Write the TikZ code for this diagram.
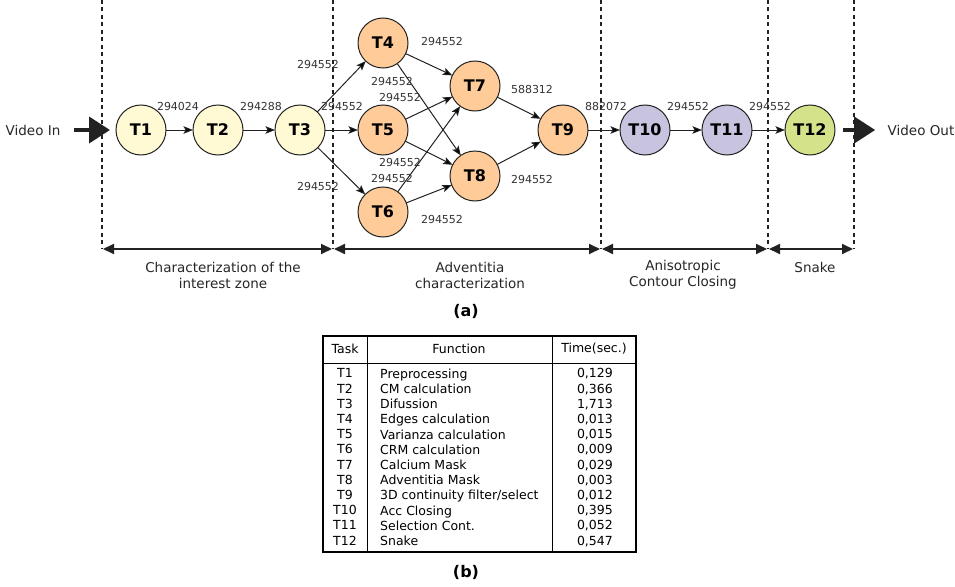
\documentclass[tikz,border=0pt]{standalone}
\usepackage{fontspec}
\setmainfont{DejaVu Sans}
\usetikzlibrary{positioning,arrows.meta}

\definecolor{prepfill}{HTML}{FFFAD4}
\definecolor{advfill}{HTML}{FFCC99}
\definecolor{acfill}{HTML}{C8C4E0}
\definecolor{snakefill}{HTML}{D4E38A}
\definecolor{inkgray}{HTML}{222222}

\begin{document}
\begin{tikzpicture}[%
		x=1pt,
		y=-1pt,
		>={Stealth[length=9.5pt,width=7.5pt,inset=2pt]},
		task/.style={%
			circle,
			draw=inkgray,
			line width=1pt,
			minimum size=50pt,
			inner sep=0pt,
			outer sep=0pt,
			font=\fontsize{16}{19}\selectfont\bfseries
		},
		flow/.style={->, line width=1pt, draw=inkgray},
		lbl/.style={font=\fontsize{11}{13}\selectfont, inner sep=0pt, text=black!80},
		zone/.style={line width=2pt, dash pattern=on 4pt off 3.5pt, draw=inkgray},
		span/.style={{Triangle[length=11pt,width=10pt]}-{Triangle[length=11pt,width=10pt]}, line width=1.8pt, draw=inkgray},
		video/.style={-{Triangle[length=21pt,width=26pt]}, line width=4pt, draw=inkgray},
		zonetext/.style={font=\fontsize{13.5}{16}\selectfont, align=center, text=black!85},
		tabtext/.style={font=\fontsize{12.5}{15.2}\selectfont, inner sep=0pt}
		]
		\useasboundingbox (0,0) rectangle (955,586);

		\coordinate (z1t) at (102,0);	\coordinate (z1b) at (102,249);
		\coordinate (z2t) at (333,0);	\coordinate (z2b) at (333,249);
		\coordinate (z3t) at (601,0);	\coordinate (z3b) at (601,249);
		\coordinate (z4t) at (768,0);	\coordinate (z4b) at (768,249);
		\coordinate (z5t) at (854,0);	\coordinate (z5b) at (854,249);

		\draw[zone] (z1t) -- (z1b);
		\draw[zone] (z2t) -- (z2b);
		\draw[zone] (z3t) -- (z3b);
		\draw[zone] (z4t) -- (z4b);
		\draw[zone] (z5t) -- (z5b);

		\node[task, fill=prepfill]	(T1) at (141,130)				{T1};
		\node[task, fill=prepfill]	(T2) [right=27pt of T1]			{T2};
		\node[task, fill=prepfill]	(T3) [right=32pt of T2]			{T3};
		\node[task, fill=advfill]	(T5) [right=33pt of T3]			{T5};
		\node[task, fill=advfill]	(T4) [above=37pt of T5]			{T4};
		\node[task, fill=advfill]	(T6) [below=32pt of T5]			{T6};
		\node[task, fill=advfill]	(T7) at (475,86)				{T7};
		\node[task, fill=advfill]	(T8) [below=40pt of T7]			{T8};
		\node[task, fill=advfill]	(T9) at (563,130)				{T9};
		\node[task, fill=acfill]	(T10) [right=32pt of T9]		{T10};
		\node[task, fill=acfill]	(T11) [right=32pt of T10]		{T11};
		\node[task, fill=snakefill]	(T12) [right=33pt of T11]		{T12};

		\node[zonetext]	(vin) at (33,130)		{Video In};
		\node[zonetext]	(vout) at (921,130)		{Video Out};

		\draw[video, shorten <=10pt, shorten >=6pt] (vin) -- (T1);
		\draw[video, shorten <=8pt, shorten >=9pt] (T12) -- (vout);

		\path[flow]
		(T1) edge	node[lbl, xshift=-1.5pt, yshift=24pt] {294024} (T2)
		(T2) edge	node[lbl, xshift=2pt, yshift=24pt] {294288} (T3)
		(T3) edge	node[lbl, xshift=-23.5pt, yshift=22.5pt] {294552} (T4)
		(T3) edge	node[lbl, xshift=0.5pt, yshift=24pt] {294552} (T5)
		(T3) edge	node[lbl, xshift=-23.5pt, yshift=-15pt] {294552} (T6)
		(T4) edge	node[lbl, xshift=13pt, yshift=23.5pt] {294552} (T7)
		(T4) edge	node[lbl, xshift=-37pt, yshift=28.5pt] {294552} (T8)
		(T5) edge	node[lbl, xshift=-29pt, yshift=11pt] {294552} (T7)
		(T5) edge	node[lbl, xshift=-29pt, yshift=-9pt] {294552} (T8)
		(T6) edge	node[lbl, xshift=-37pt, yshift=-29pt] {294552} (T7)
		(T6) edge	node[lbl, xshift=13pt, yshift=-25pt] {294552} (T8)
		(T7) edge	node[lbl, xshift=13pt, yshift=19pt] {588312} (T9)
		(T8) edge	node[lbl, xshift=13pt, yshift=-26pt] {294552} (T9)
		(T9) edge	node[lbl, xshift=2pt, yshift=24pt] {882072} (T10)
		(T10) edge	node[lbl, xshift=2pt, yshift=24pt] {294552} (T11)
		(T11) edge	node[lbl, xshift=1.5pt, yshift=24pt] {294552} (T12);

		\draw[span] ([xshift=1pt]z1b) -- ([xshift=-1pt]z2b);
		\draw[span] ([xshift=1pt]z2b) -- ([xshift=-1pt]z3b);
		\draw[span] ([xshift=1pt]z3b) -- ([xshift=-1pt]z4b);
		\draw[span] ([xshift=1pt]z4b) -- ([xshift=-1pt]z5b);

		\node[zonetext] (zn1) at (223,275)	{Characterization of the\\interest zone};
		\node[zonetext] (zn2) at (470,275)	{Adventitia\\characterization};
		\node[zonetext] (zn3) at (683,275)	{Anisotropic\\Contour Closing};
		\node[zonetext] (zn4) at (815,267)	{Snake};

		\node[font=\fontsize{16}{19}\selectfont\bfseries] (capa) at (466,311) {(a)};

		\coordinate (tnw) at (323,336);
		\coordinate (tse) at (636,552);
		\draw[line width=0.8pt] (323,363) -- (636,363);
		\draw[line width=0.8pt] (367,336) -- (367,552);
		\draw[line width=0.8pt] (552,336) -- (552,552);
		\draw[line width=1.6pt] (tnw) rectangle (tse);

		\node[tabtext] (htask) at (345,349)	{Task};
		\node[tabtext] (hfunc) at (459,349)	{Function};
		\node[tabtext] (htime) at (594,349)	{Time(sec.)};

		\node[tabtext, anchor=north, align=center] (ctask) at (345,368.5)
		{T1\\T2\\T3\\T4\\T5\\T6\\T7\\T8\\T9\\T10\\T11\\T12};
		\node[tabtext, anchor=north west, align=left] (cfunc) at (380,368.5)
		{Preprocessing\\CM calculation\\Difussion\\Edges calculation\\Varianza calculation\\CRM calculation\\Calcium Mask\\Adventitia Mask\\3D continuity filter/select\\Acc Closing\\Selection Cont.\\Snake};
		\node[tabtext, anchor=north east, align=right] (ctime) at (613,368.5)
		{0,129\\0,366\\1,713\\0,013\\0,015\\0,009\\0,029\\0,003\\0,012\\0,395\\0,052\\0,547};

		\node[font=\fontsize{16}{19}\selectfont\bfseries] (capb) at (466,572) {(b)};
\end{tikzpicture}
\end{document}
